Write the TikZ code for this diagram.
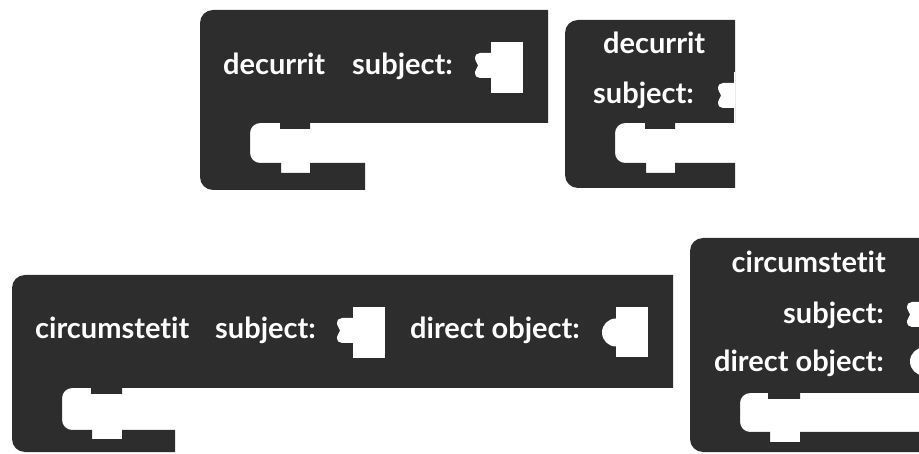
\documentclass[tikz,border=0pt]{standalone}
\usepackage{fontspec}
\setmainfont[Ligatures=NoCommon]{Lato}
\usepackage{xcolor}
\usepackage{tikz}
\definecolor{blockdark}{HTML}{2D2D2D}

\begin{document}
\begin{tikzpicture}[
  x=1pt, y=-1pt,
  blockfill/.style={fill=blockdark},
  lbl/.style={text=white, inner sep=0pt, font=\fontsize{29}{31}\selectfont\bfseries},
  puzzleslot/.pic={
    \fill[white] (0,0) rectangle (32,51);
    \fill[white] (1,11) -- (-11,11) .. controls (-14,11) and (-16,13) .. (-16,17)
      .. controls (-16,20) and (-13,21) .. (-13,23.5)
      .. controls (-13,26) and (-16,27) .. (-16,30)
      .. controls (-16,34) and (-14,36) .. (-11,36) -- (1,36) -- cycle;
  },
  roundslot/.pic={
    \fill[white] (0,0) rectangle (32,50);
    \fill[white] (0,25.5) circle (14pt);
  },
]
\useasboundingbox (0,0) rectangle (919,454);

% Row 1
\fill[blockfill] (200,23) .. controls (200,15.8) and (205.8,10) .. (213,10) -- (548,10) -- (548,123)
  -- (310,123) -- (310,129) -- (280,129) -- (280,123) -- (260,123)
  .. controls (254.5,123) and (250,127.5) .. (250,133) -- (250,153)
  .. controls (250,158.5) and (254.5,163) .. (260,163) -- (281,163) -- (281,173) -- (310,173) -- (310,163)
  -- (365,163) -- (365,190) -- (213,190) .. controls (205.8,190) and (200,184.2) .. (200,177) -- cycle;
\pic at (491,42) {puzzleslot};

\begin{scope}
  \clip (560,0) rectangle (735,200);
  \fill[blockfill] (565,33) .. controls (565,25.8) and (570.8,20) .. (578,20) -- (745,20) -- (745,123)
    -- (675,123) -- (675,129) -- (645,129) -- (645,123) -- (625,123)
    .. controls (619.5,123) and (615,127.5) .. (615,133) -- (615,153)
    .. controls (615,158.5) and (619.5,163) .. (625,163) -- (646,163) -- (646,173) -- (675,173) -- (675,163)
    -- (745,163) -- (745,188) -- (578,188) .. controls (570.8,188) and (565,182.2) .. (565,175) -- cycle;
  \pic at (734,72) {puzzleslot};
\end{scope}

% Row 2
\fill[blockfill] (12,288) .. controls (12,280.8) and (17.8,275) .. (25,275) -- (673,275) -- (673,388)
  -- (122,388) -- (122,394) -- (91,394) -- (91,388) -- (72,388)
  .. controls (66.5,388) and (62,392.5) .. (62,398) -- (62,420)
  .. controls (62,425.5) and (66.5,430) .. (72,430) -- (92,430) -- (92,439) -- (122,439) -- (122,430)
  -- (175,430) -- (175,452) -- (25,452) .. controls (17.8,452) and (12,446.2) .. (12,439) -- cycle;
\pic at (353,307) {puzzleslot};
\pic at (616,307) {roundslot};

\begin{scope}
  \clip (685,230) rectangle (919,454);
  \fill[blockfill] (690,251) .. controls (690,243.8) and (695.8,238) .. (703,238) -- (930,238) -- (930,393)
    -- (800,393) -- (800,399) -- (768,399) -- (768,393) -- (750,393)
    .. controls (744.5,393) and (740,397.5) .. (740,403) -- (740,422)
    .. controls (740,427.5) and (744.5,432) .. (750,432) -- (770,432) -- (770,442) -- (800,442) -- (800,432)
    -- (930,432) -- (930,452) -- (703,452) .. controls (695.8,452) and (690,446.2) .. (690,439) -- cycle;
  \pic at (923,291) {puzzleslot};
  \pic at (924,336) {roundslot};
\end{scope}

% labels
\node[lbl, anchor=base west] (verb1) at (223,75) {decurrit};
\node[lbl, anchor=base west] (subj1) at (352,75) {subject:};
\node[lbl, anchor=base west] (verb2) at (603,54) {decurrit};
\node[lbl, anchor=base west] (subj2) at (593,104) {subject:};
\node[lbl, anchor=base west] (verb3) at (35,339) {circumstetit};
\node[lbl, anchor=base west] (subj3) at (215,339) {subject:};
\node[lbl, anchor=base west] (obj3) at (410,339) {direct object:};
\node[lbl, anchor=base east] (verb4) at (886,273) {circumstetit};
\node[lbl, anchor=base east] (subj4) at (884,324) {subject:};
\node[lbl, anchor=base east] (obj4) at (884,372) {direct object:};

\end{tikzpicture}
\end{document}
